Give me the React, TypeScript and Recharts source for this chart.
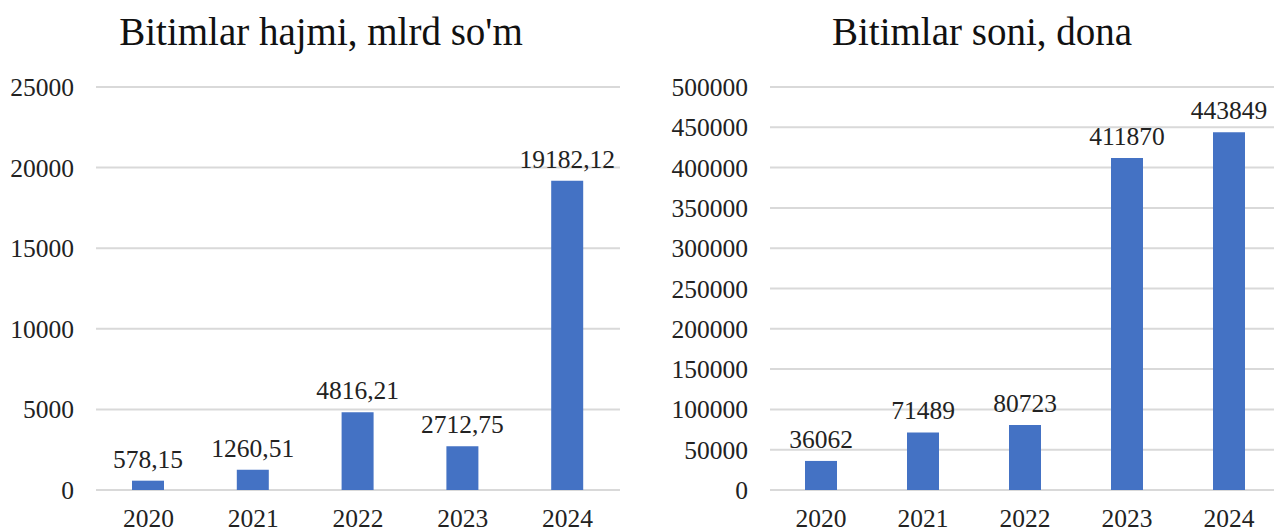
import { Bar, BarChart, CartesianGrid, LabelList, XAxis, YAxis } from "recharts";

const years = ["2020", "2021", "2022", "2023", "2024"];
const volume = [578.15, 1260.51, 4816.21, 2712.75, 19182.12];
const count = [36062, 71489, 80723, 411870, 443849];
const volumeTicks = [0, 5000, 10000, 15000, 20000, 25000];
const countTicks = [0, 50000, 100000, 150000, 200000, 250000, 300000, 350000, 400000, 450000, 500000];

const volumeData = years.map((year, i) => ({ year, value: volume[i] }));
const countData = years.map((year, i) => ({ year, value: count[i] }));

const FONT = "Liberation Serif";
const tickStyle = { fontSize: 25.5, fill: "#222", fontFamily: FONT };

function Title({ text, center }: { text: string; center: number }) {
  return (
    <div
      style={{
        position: "absolute",
        top: 9,
        left: center - 300,
        width: 600,
        textAlign: "center",
        fontFamily: FONT,
        fontSize: 39,
        color: "#111",
        whiteSpace: "nowrap",
      }}
    >
      {text}
    </div>
  );
}

export default function App() {
  return (
    <div>
      <Title text="Bitimlar hajmi, mlrd so'm" center={321} />
      <Title text="Bitimlar soni, dona" center={982} />

      <div style={{ position: "absolute", left: 0, top: 0 }}>
        <BarChart
          width={620}
          height={530}
          data={volumeData}
          margin={{ top: 87, right: 0, bottom: 0, left: 0 }}
        >
          <CartesianGrid vertical={false} stroke="#d9d9d9" strokeWidth={2} />
          <XAxis
            dataKey="year"
            axisLine={false}
            tickLine={false}
            tickSize={0}
            tickMargin={19}
            height={40}
            tick={tickStyle}
            interval={0}
          />
          <YAxis
            domain={[0, 25000]}
            ticks={volumeTicks}
            axisLine={false}
            tickLine={false}
            tickSize={0}
            tickMargin={22}
            width={96}
            tick={tickStyle}
            interval={0}
          />
          <Bar dataKey="value" fill="#4472C4" barSize={32} isAnimationActive={false}>
            <LabelList
              dataKey="value"
              position="top"
              offset={13}
              style={tickStyle}
              formatter={(v: number) => v.toFixed(2).replace(".", ",")}
            />
          </Bar>
        </BarChart>
      </div>

      <div style={{ position: "absolute", left: 640, top: 0, width: 634, overflow: "hidden" }}>
        <BarChart
          width={640}
          height={530}
          data={countData}
          margin={{ top: 87, right: 0, bottom: 0, left: 0 }}
        >
          <CartesianGrid vertical={false} stroke="#d9d9d9" strokeWidth={2} />
          <XAxis
            dataKey="year"
            axisLine={false}
            tickLine={false}
            tickSize={0}
            tickMargin={19}
            height={40}
            tick={tickStyle}
            interval={0}
          />
          <YAxis
            domain={[0, 500000]}
            ticks={countTicks}
            axisLine={false}
            tickLine={false}
            tickSize={0}
            tickMargin={22}
            width={130}
            tick={tickStyle}
            interval={0}
          />
          <Bar dataKey="value" fill="#4472C4" barSize={32} isAnimationActive={false}>
            <LabelList dataKey="value" position="top" offset={13} style={tickStyle} />
          </Bar>
        </BarChart>
      </div>
    </div>
  );
}
